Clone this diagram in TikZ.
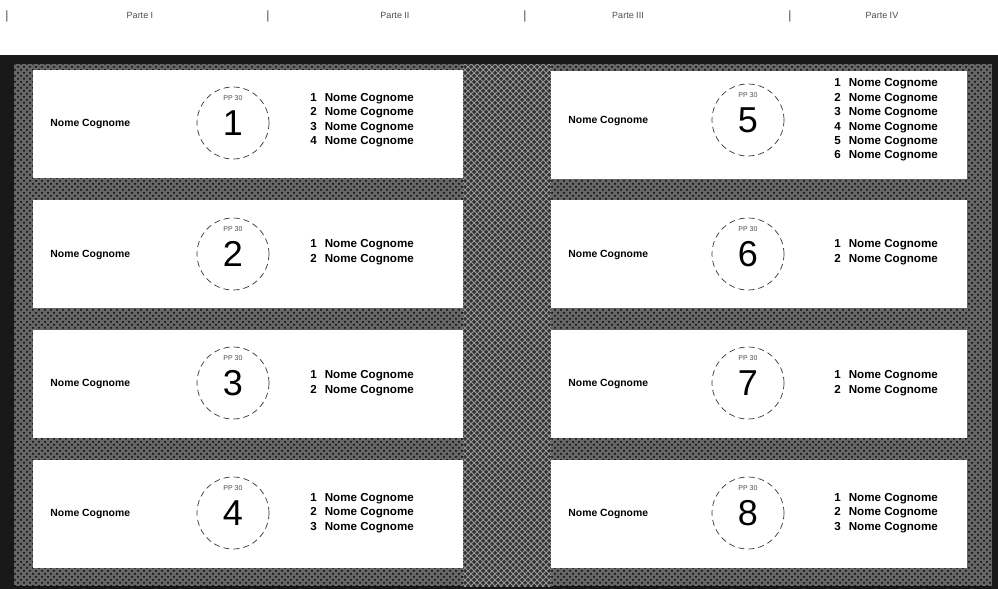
\documentclass[tikz,border=0pt]{standalone}
\usepackage{fontspec}
\setmainfont{Liberation Sans}
\usetikzlibrary{patterns}
\tikzset{
  card/.style={fill=white, draw=none, minimum height=54pt, inner sep=0pt},
  cardL/.style={card, minimum width=215pt},
  cardR/.style={card, minimum width=208pt},
  seat/.style={circle, draw=black!80, densely dashed, line width=0.35pt, minimum size=36pt, inner sep=0pt,
    font=\fontsize{18}{18}\selectfont},
  seatlab/.style={font=\fontsize{3.5}{4}\selectfont, text=black!70, inner sep=0pt},
  guestname/.style={anchor=west, font=\bfseries\fontsize{5.2}{6}\selectfont, inner sep=0pt},
  guestlist/.style={anchor=west, align=left, font=\bfseries\fontsize{5.8}{7.2}\selectfont, inner sep=0pt},
  head/.style={font=\fontsize{4.5}{5}\selectfont, text=black!70, inner sep=0pt},
  sep/.style={font=\fontsize{6}{6}\selectfont, text=black!70, inner sep=0pt}
}
\newcommand{\gl}[1]{#1\hspace{4pt}Nome Cognome}
\begin{document}
\begin{tikzpicture}[x=0.5pt,y=-0.5pt]
\useasboundingbox (0,0) rectangle (998,589);
\fill[white] (0,0) rectangle (998,589);
% header
\node[sep] (s1) at (7,16) {|};
\node[head] (h1) at (140,15) {Parte I};
\node[sep] (s2) at (268,16) {|};
\node[head] (h2) at (395,15) {Parte II};
\node[sep] (s3) at (525,16) {|};
\node[head] (h3) at (628,15) {Parte III};
\node[sep] (s4) at (790,16) {|};
\node[head] (h4) at (882,15) {Parte IV};
% frame
\fill[black!90] (0,55) rectangle (998,589);
\fill[black!60] (14,64) rectangle (992,586);
\fill[pattern=crosshatch dots, pattern color=black] (14,64) rectangle (992,586);
\fill[black!80] (463,64) rectangle (551,586);
\fill[pattern=crosshatch, pattern color=white!60!black] (463,64) rectangle (551,586);
% cards
\foreach \n/\y in {1/124,2/254,3/384,4/514}{
  \node[cardL] (cardl\n) at (248,\y) {};
}
\foreach \n/\y in {5/125,6/254,7/384,8/514}{
  \node[cardR] (cardr\n) at (759,\y) {};
}
% seats
\foreach \n/\y in {1/123,2/254,3/383,4/513}{
  \node[seat] (t\n) at (233,\y) {\n};
  \node[seatlab] (tl\n) at (233,\y-25) {PP 30};
  \node[guestname] (g\n) at (50,\y+1) {Nome Cognome};
}
\foreach \n/\y in {5/120,6/254,7/383,8/513}{
  \node[seat] (t\n) at (748,\y) {\n};
  \node[seatlab] (tl\n) at (748,\y-25) {PP 30};
  \node[guestname] (g\n) at (568,\y+1) {Nome Cognome};
}
% guest lists
\node[guestlist] (l1) at (310,120) {\gl{1}\\\gl{2}\\\gl{3}\\\gl{4}};
\node[guestlist] (l2) at (310,252) {\gl{1}\\\gl{2}};
\node[guestlist] (l3) at (310,383) {\gl{1}\\\gl{2}};
\node[guestlist] (l4) at (310,513) {\gl{1}\\\gl{2}\\\gl{3}};
\node[guestlist] (l5) at (834,120) {\gl{1}\\\gl{2}\\\gl{3}\\\gl{4}\\\gl{5}\\\gl{6}};
\node[guestlist] (l6) at (834,252) {\gl{1}\\\gl{2}};
\node[guestlist] (l7) at (834,383) {\gl{1}\\\gl{2}};
\node[guestlist] (l8) at (834,513) {\gl{1}\\\gl{2}\\\gl{3}};
\end{tikzpicture}
\end{document}
